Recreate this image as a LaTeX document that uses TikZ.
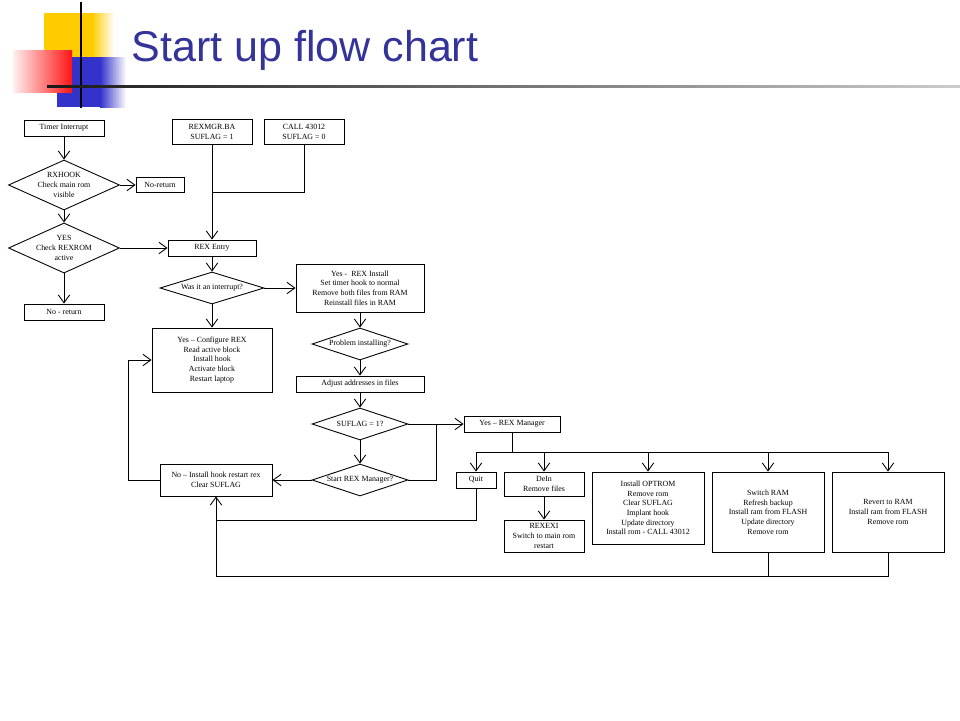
\documentclass[tikz,border=0pt]{standalone}
\usepackage{fontspec}
\setmainfont{Liberation Serif}
\newfontfamily\titlefont{Liberation Sans}
\usetikzlibrary{shapes.geometric,arrows.meta}
\definecolor{titleblue}{RGB}{51,51,153}
\definecolor{decoyellow}{RGB}{255,204,0}
\definecolor{decoblue}{RGB}{51,51,204}
\definecolor{decored}{RGB}{255,20,20}
\tikzset{
  chart/.style={font=\fontsize{4.5}{5.5}\selectfont, line width=0.5pt},
  box/.style={draw, rectangle, align=center, inner sep=1pt},
  decision/.style={draw, diamond, aspect=3, align=center, inner sep=0pt},
  flow/.style={-{Straight Barb[length=4.5pt,width=6.5pt]}},
}

\begin{document}
\begin{tikzpicture}[x=0.02cm, y=-0.02cm, chart]
   \useasboundingbox (0,0) rectangle (960,720);

   % title block
   \fill[decoyellow] (44,13) rectangle (92,57);
   \shade[left color=decoyellow, right color=white, draw=none] (92,13) rectangle (114,57);
   \fill[decoblue] (57,57) rectangle (100,107);
   \shade[left color=decoblue, right color=white, draw=none] (100,57) rectangle (126,107);
   \shade[left color=red!6, right color=decored, draw=none] (13,50) rectangle (72,92);
   \draw[line width=1.2pt] (81,2) -- (81,108);
   \shade[left color=black!90, right color=black!20, draw=none] (47,85) rectangle (960,87.5);
   \node[anchor=base west, inner sep=0pt, text=titleblue, font=\titlefont\fontsize{24.5}{28}\selectfont] (title) at (131,61) {Start up flow chart};

   \node[box, minimum width=1.6cm, minimum height=0.32cm] (timer) at (64,128) {Timer Interrupt};
   \node[decision, aspect=2.2, minimum width=2.22cm, minimum height=1cm] (rxhook) at (64,185) {RXHOOK\\Check main rom\\visible};
   \node[box, minimum width=0.96cm, minimum height=0.3cm] (noret) at (160,185) {No-return};
   \node[decision, aspect=2.2, minimum width=2.22cm, minimum height=1cm] (chkrom) at (64,248) {YES\\Check REXROM\\active};
   \node[box, minimum width=1.6cm, minimum height=0.32cm] (noreturn) at (64,312) {No - return};

   \node[box, minimum width=1.6cm, minimum height=0.5cm] (rexmgr) at (212,132) {REXMGR.BA\\SUFLAG = 1};
   \node[box, minimum width=1.6cm, minimum height=0.5cm] (call) at (304,132) {CALL 43012\\SUFLAG = 0};
   \coordinate (join) at (212,192);
   \node[box, minimum width=1.76cm, minimum height=0.32cm] (rexentry) at (212,248) {REX Entry};
   \node[decision, minimum width=2.08cm, minimum height=0.64cm] (wasint) at (212,288) {Was it an interrupt?};
   \node[box, minimum width=2.4cm, minimum height=1.28cm] (config) at (212,360) {Yes – Configure REX\\Read active block\\Install hook\\Activate block\\Restart laptop};
   \node[box, minimum width=2.24cm, minimum height=0.64cm] (noinst) at (216,480) {No – Install hook restart rex\\Clear SUFLAG};
   \coordinate (lback) at (128,360);

   \node[box, minimum width=2.56cm, minimum height=0.96cm] (rexinst) at (360,288) {Yes -\ \ REX Install\\Set timer hook to normal\\Remove both files from RAM\\Reinstall files in RAM};
   \node[decision, minimum width=1.92cm, minimum height=0.64cm] (problem) at (360,344) {Problem installing?};
   \node[box, minimum width=2.56cm, minimum height=0.32cm] (adjust) at (360,384) {Adjust addresses in files};
   \node[decision, minimum width=1.92cm, minimum height=0.64cm] (suflag) at (360,424) {SUFLAG = 1?};
   \node[decision, minimum width=1.92cm, minimum height=0.64cm] (startmgr) at (360,480) {Start REX Manager?};
   \coordinate (sjoin) at (436,424);

   \node[box, minimum width=1.92cm, minimum height=0.32cm] (yesmgr) at (512,424) {Yes – REX Manager};
   \coordinate (bus) at (512,452);
   \node[box, minimum width=0.8cm, minimum height=0.32cm] (quit) at (476,480) {Quit};
   \node[box, minimum width=1.6cm, minimum height=0.48cm] (delin) at (544,484) {DeIn\\Remove files};
   \node[box, minimum width=1.6cm, minimum height=0.64cm] (rexexi) at (544,536) {REXEXI\\Switch to main rom\\restart};
   \node[box, minimum width=2.24cm, minimum height=1.44cm] (optrom) at (648,508) {Install OPTROM\\Remove rom\\Clear SUFLAG\\Implant hook\\Update directory\\Install rom - CALL 43012};
   \node[box, minimum width=2.24cm, minimum height=1.6cm] (switch) at (768,512) {Switch RAM\\Refresh backup\\Install ram from FLASH\\Update directory\\Remove rom};
   \node[box, minimum width=2.24cm, minimum height=1.6cm] (revert) at (888,512) {Revert to RAM\\Install ram from FLASH\\Remove rom};
   \coordinate (qjoin) at (216,520);
   \coordinate (botL) at (216,576);

   \draw[flow] (timer) -- (rxhook);
   \draw[flow] (rxhook) -- (noret);
   \draw[flow] (rxhook) -- (chkrom);
   \draw[flow] (chkrom) -- (noreturn);
   \draw[flow] (chkrom) -- (rexentry);
   \draw[flow] (rexmgr) -- (rexentry);
   \draw (call.south) |- (join);
   \draw[flow] (rexentry) -- (wasint);
   \draw[flow] (wasint) -- (rexinst);
   \draw[flow] (wasint) -- (config);
   \draw[flow] (rexinst) -- (problem);
   \draw[flow] (problem) -- (adjust);
   \draw[flow] (adjust) -- (suflag);
   \draw[flow] (suflag) -- (startmgr);
   \draw[flow] (startmgr) -- (noinst);
   \draw[flow] (suflag) -- (yesmgr);
   \draw (startmgr.east) -| (sjoin);
   \draw[flow] (noinst.west) -| (lback) -- (config.west);

   \draw (yesmgr.south) -- (bus);
   \draw (quit |- bus) -- (revert |- bus);
   \foreach \n in {quit,delin,optrom,switch,revert}
     \draw[flow] (\n |- bus) -- (\n);
   \draw[flow] (delin) -- (rexexi);

   \draw[flow] (quit.south) |- (qjoin) -- (noinst.south);
   \draw (switch.south) |- (botL) -- (qjoin);
   \draw (revert.south) |- (switch.south |- botL);
\end{tikzpicture}
\end{document}
